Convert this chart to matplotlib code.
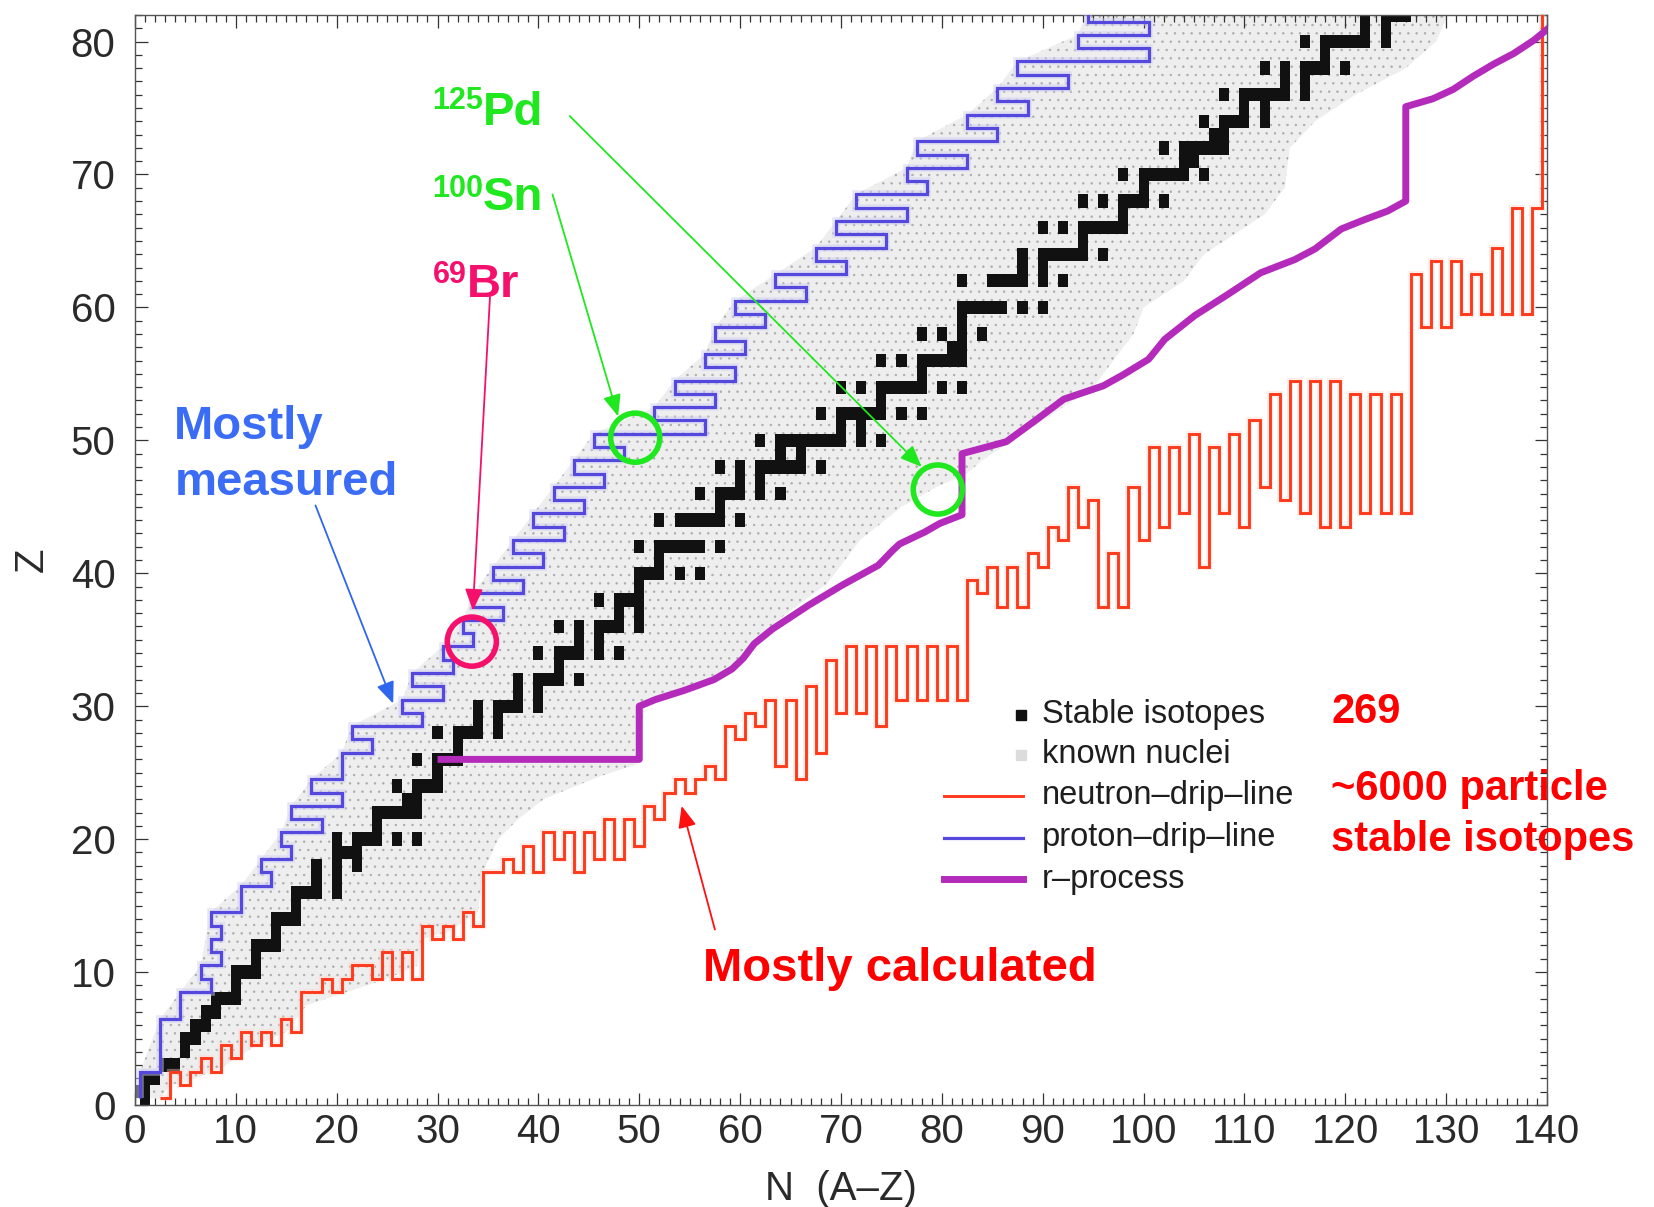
import matplotlib.pyplot as plt
import numpy as np
from matplotlib.lines import Line2D
from matplotlib.ticker import MultipleLocator

plt.rcParams['font.family'] = ['Liberation Sans', 'DejaVu Sans']
plt.rcParams['hatch.linewidth'] = 0.5

# stable (and primordial) nuclei: neutron numbers for Z = 0 .. 82
STABLE_N = [
    [1], [0, 1], [1, 2], [3, 4], [5], [5, 6], [6, 7], [7, 8], [8, 9, 10], [10],
    [10, 11, 12], [12], [12, 13, 14], [14], [14, 15, 16], [16], [16, 17, 18, 20],
    [18, 20], [18, 20, 22], [20, 21, 22], [20, 22, 23, 24, 26, 28], [24],
    [24, 25, 26, 27, 28], [27, 28], [26, 28, 29, 30], [30], [28, 30, 31, 32], [32],
    [30, 32, 33, 34, 36], [34, 36], [34, 36, 37, 38, 40], [38, 40],
    [38, 40, 41, 42, 44], [42], [40, 42, 43, 44, 46, 48], [44, 46],
    [42, 44, 46, 47, 48, 50], [48, 50], [46, 48, 49, 50], [50],
    [50, 51, 52, 54, 56], [52], [50, 52, 53, 54, 55, 56, 58], [],
    [52, 54, 55, 56, 57, 58, 60], [58], [56, 58, 59, 60, 62, 64], [60, 62],
    [58, 60, 62, 63, 64, 65, 66, 68], [64, 66],
    [62, 64, 65, 66, 67, 68, 69, 70, 72, 74], [70, 72],
    [68, 70, 71, 72, 73, 74, 76, 78], [74], [70, 72, 74, 75, 76, 77, 78, 80, 82],
    [78], [74, 76, 78, 79, 80, 81, 82], [81, 82], [78, 80, 82, 84], [82],
    [82, 83, 84, 85, 86, 88, 90], [], [82, 85, 86, 87, 88, 90, 92], [88, 90],
    [88, 90, 91, 92, 93, 94, 96], [94], [90, 92, 94, 95, 96, 97, 98], [98],
    [94, 96, 98, 99, 100, 102], [100], [98, 100, 101, 102, 103, 104, 106],
    [104, 105], [102, 104, 105, 106, 107, 108], [107, 108],
    [106, 108, 109, 110, 112], [110, 112], [108, 110, 111, 112, 113, 114, 116],
    [114, 116], [112, 114, 116, 117, 118, 120], [118],
    [116, 118, 119, 120, 121, 122, 124], [122, 124], [122, 124, 125, 126],
]

# proton drip line: lightest bound N for Z = 1 .. 82
PDL_NMIN = [
    1, 1, 3, 3, 3, 3, 5, 5, 8, 7, 9, 8, 9, 8, 11, 11, 14, 13, 16, 15,
    19, 16, 21, 18, 21, 21, 24, 22, 29, 27, 31, 28, 32, 31, 34, 33, 37, 34, 39, 36,
    41, 38, 43, 40, 45, 42, 47, 44, 49, 46, 57, 52, 58, 54, 60, 57, 61, 58, 63, 60,
    67, 64, 71, 68, 75, 70, 77, 72, 79, 77, 83, 78, 86, 83, 89, 86, 93, 88, 101, 94,
    101, 95,
]

# neutron drip line: lowest bound Z for N = 3 .. 140
NDL_ZMIN = [
    1, 3, 2, 3, 4, 3, 5, 4, 6, 5, 6, 5, 7, 6, 9, 9, 10, 9, 10, 11,
    11, 10, 12, 10, 12, 10, 14, 13, 14, 13, 15, 14, 18, 18, 19, 18, 20, 18, 21, 19,
    21, 18, 21, 19, 22, 19, 22, 20, 23, 22, 24, 25, 24, 25, 26, 25, 29, 28, 30, 29,
    31, 26, 31, 25, 32, 27, 34, 30, 35, 30, 35, 29, 35, 31, 35, 31, 35, 31, 35, 31,
    40, 39, 41, 38, 41, 38, 42, 41, 44, 43, 47, 44, 46, 38, 42, 38, 47, 43, 50, 44,
    50, 45, 51, 41, 50, 45, 51, 44, 52, 47, 54, 46, 55, 45, 55, 44, 55, 44, 54, 45,
    54, 45, 54, 45, 63, 59, 64, 59, 64, 60, 63, 60, 65, 60, 68, 60, 68, 83,
]

# r-process path
RP_N = [30, 50, 50, 51.6, 54.5, 57.4, 59.2, 60.3, 61.4, 63.2, 66.8, 70.1, 73.7, 75.1,
        75.8, 78.3, 79.8, 82, 82, 86.4, 89.1, 92.1, 96, 97.9, 100.5, 102.1, 105.1,
        108.2, 111.6, 115, 117, 119.6, 121.9, 124.2, 126, 126, 128.7, 130.7, 132.7,
        134.7, 136.7, 138.7, 140.3]
RP_Z = [26, 26, 30, 30.5, 31.2, 32.0, 32.8, 33.6, 34.7, 35.8, 37.6, 39.1, 40.6, 41.7,
        42.2, 43.1, 43.75, 44.4, 49, 49.9, 51.4, 53.1, 54.1, 54.9, 56.1, 57.6, 59.4,
        60.9, 62.6, 63.6, 64.4, 65.9, 66.6, 67.25, 68, 75.1, 75.7, 76.4, 77.4, 78.3,
        79.1, 80.1, 81.1]

# outline of the known-nuclei area
KNOWN_LEFT_N = [0, 0.5, 2.5, 4.5, 6.5, 7.5, 10.5, 12.5, 14.5, 15.5, 17.5, 20.5, 21.5,
                26.5, 27.5, 30.5, 32.5, 33.5, 35.5, 37.5, 39.5, 41.5, 43.5, 45.5, 51.5,
                53.5, 56.5, 57.5, 59.5, 63.5, 67.5, 69.5, 71.5, 76.5, 77.5, 82.5, 85.5,
                87.5, 93.5, 94.5]
KNOWN_LEFT_Z = [0.5, 2.5, 6.5, 8.5, 10.5, 14.5, 16.5, 18.5, 20.5, 22.5, 24.5, 26.5,
                28.5, 30.5, 32.5, 34.5, 36.5, 38.5, 40.5, 42.5, 44.5, 46.5, 48.5, 50.5,
                52.5, 54.5, 56.5, 58.5, 60.5, 62.5, 64.5, 66.5, 68.5, 70.5, 72.5, 74.5,
                76.5, 78.5, 80.5, 82.5]
KNOWN_RIGHT_N = [2.5, 3.5, 6, 9, 12, 15, 17, 21, 25, 28, 28.5, 31, 34, 34.5, 36, 38,
                 40.5, 46, 50, 50.5, 53, 57, 60.5, 62, 64.3, 68.6, 71.9, 76, 79.5, 82.5,
                 84, 88, 92, 95, 97, 99, 100, 104, 106, 109, 112, 114, 114.5, 117, 121,
                 126, 129, 130.5]
KNOWN_RIGHT_Z = [0.5, 1.5, 2, 3, 4.5, 5.5, 7.5, 8.5, 9.5, 10.5, 12.5, 13, 14.5, 17.5,
                 20, 21.5, 23, 24.7, 25.7, 30, 31, 32, 33.7, 35, 36.8, 39.2, 42.5, 45,
                 46.5, 47.5, 48.5, 50.5, 52.5, 54, 56, 58, 60, 62, 64, 65.5, 67, 69, 72,
                 74, 76, 78, 80, 82.5]

BLUE = '#5548dc'
RED = '#ff3a1c'
MAGENTA = '#b42abb'
GREEN = '#1fe81f'
CRIMSON = '#f5106c'

fig = plt.figure(figsize=(16.54, 12.07), dpi=100)
ax = fig.add_axes([0.0816, 0.0845, 0.8537, 0.9031])

# known nuclei
ax.fill(KNOWN_LEFT_N + KNOWN_RIGHT_N[::-1], KNOWN_LEFT_Z + KNOWN_RIGHT_Z[::-1],
        facecolor='#eeeeee', edgecolor='#ababab', hatch='..', linewidth=0, zorder=1)

# stable isotopes
st_n = [n for z, ns in enumerate(STABLE_N) for n in ns]
st_z = [z for z, ns in enumerate(STABLE_N) for n in ns]
ax.bar(st_n, 1.0, width=1.0, bottom=np.array(st_z) - 0.5, color='#111111',
       linewidth=0, zorder=2)

# drip lines as cell outlines
z_edges = np.arange(0.5, len(PDL_NMIN) + 1.5)
ax.stairs(np.array(PDL_NMIN) - 0.5, z_edges, orientation='horizontal', baseline=None,
          color='#d2cff5', lw=5.5, alpha=0.5, zorder=3)
ax.stairs(np.array(PDL_NMIN) - 0.5, z_edges, orientation='horizontal', baseline=None,
          color=BLUE, lw=2.3, zorder=3)
n_edges = np.arange(2.5, 3 + len(NDL_ZMIN) + 0.5)
ax.stairs(np.array(NDL_ZMIN) - 0.5, n_edges, baseline=None,
          color='#ffd3c8', lw=4.5, alpha=0.4, zorder=3)
ax.stairs(np.array(NDL_ZMIN) - 0.5, n_edges, baseline=None, color=RED, lw=2.1, zorder=3)

ax.plot(RP_N, RP_Z, color=MAGENTA, lw=5, solid_capstyle='butt', zorder=4)

ax.set_xlim(0, 140)
ax.set_ylim(0, 82)
ax.xaxis.set_major_locator(MultipleLocator(10))
ax.xaxis.set_minor_locator(MultipleLocator(1))
ax.yaxis.set_major_locator(MultipleLocator(10))
ax.yaxis.set_minor_locator(MultipleLocator(1))
ax.tick_params(which='both', direction='in', top=True, right=True, colors='#333333',
               width=0.9)
ax.tick_params(which='major', length=9, labelsize=29, labelcolor='#2a2a2a')
ax.tick_params(axis='x', which='major', pad=6)
ax.tick_params(axis='y', which='major', pad=14)
ax.tick_params(which='minor', length=5)
for sp in ax.spines.values():
    sp.set_color('#555555')
    sp.set_linewidth(1.0)

ax.set_xlabel('N  (A\u2013Z)', fontsize=29, color='#2a2a2a')
ax.set_ylabel('Z', fontsize=29, color='#2a2a2a')
ax.xaxis.set_label_coords(0.5, -0.077)
ax.xaxis.label.set_va('center')
ax.yaxis.set_label_coords(-0.073, 0.5)
ax.yaxis.label.set_va('center')

# legend
tr = ax.transAxes
leg_x0, leg_x1, leg_tx = 0.5729, 0.6289, 0.6424
rows = [0.3578, 0.3211, 0.2835, 0.2450, 0.2073]
labels = ['Stable isotopes', 'known nuclei', 'neutron\u2013drip\u2013line',
          'proton\u2013drip\u2013line', 'r\u2013process']
ax.add_line(Line2D([0.6275], [rows[0]], marker='s', ms=7, color='#111111', ls='none',
                   transform=tr, zorder=6))
ax.add_line(Line2D([0.6275], [rows[1]], marker='s', ms=7, color='#dcdcdc', ls='none',
                   transform=tr, zorder=6))
for yy, col, lw in zip(rows[2:], [RED, BLUE, MAGENTA], [2.1, 2.3, 5]):
    ax.add_line(Line2D([leg_x0, leg_x1], [yy, yy], color=col, lw=lw, transform=tr,
                       zorder=6))
for yy, lab in zip(rows, labels):
    ax.text(leg_tx, yy, lab, transform=tr, fontsize=23.5, color='#1e1e1e',
            va='center', ha='left', zorder=6)

# highlighted nuclei
bold = dict(fontweight='bold')
for big, small, x, yb, ys, col in [('Pd', '125', 34.5, 73.7, 74.9, GREEN),
                                   ('Sn', '100', 34.5, 67.3, 68.3, GREEN),
                                   ('Br', '69', 32.9, 60.8, 61.85, CRIMSON)]:
    ax.text(x, yb, big, fontsize=34, color=col, ha='left', va='baseline', **bold)
    ax.text(x, ys, small, fontsize=22, color=col, ha='right', va='baseline', **bold)

ax.scatter([49.6, 79.6], [50.2, 46.3], s=1250, facecolors='none', edgecolors=GREEN,
           linewidths=4, zorder=7)
ax.scatter([33.4], [34.86], s=1250, facecolors='none', edgecolors=CRIMSON,
           linewidths=4, zorder=7)

arrow = '-|>,head_length=0.6,head_width=0.25'
for tail, tip, col in [((43.1, 74.4), (78.0, 48.0), GREEN),
                       ((41.4, 68.5), (47.9, 51.8), GREEN),
                       ((35.2, 60.8), (33.5, 37.2), CRIMSON),
                       ((17.9, 45.1), (25.6, 30.2), '#2f66ee'),
                       ((57.5, 13.2), (54.2, 22.5), '#ff1010')]:
    ax.annotate('', xy=tip, xytext=tail, zorder=8,
                arrowprops=dict(arrowstyle=arrow, mutation_scale=22, lw=1.3, color=col,
                                shrinkA=0, shrinkB=0))

ax.text(3.9, 51.0, 'Mostly', fontsize=34, color='#3b6cf5', va='center', ha='left', **bold)
ax.text(3.9, 46.8, 'measured', fontsize=34, color='#3b6cf5', va='center', ha='left', **bold)
ax.text(56.3, 10.2, 'Mostly calculated', fontsize=34, color='#ff0000', va='center',
        ha='left', **bold)
ax.text(118.6, 29.6, '269', fontsize=30, color='#ff0000', va='center', ha='left', **bold)
ax.text(118.6, 23.8, '~6000 particle', fontsize=30, color='#ff0000', va='center',
        ha='left', clip_on=False, **bold)
ax.text(118.6, 19.9, 'stable isotopes', fontsize=30, color='#ff0000', va='center',
        ha='left', clip_on=False, **bold)

fig.savefig('out.png', dpi=100)
